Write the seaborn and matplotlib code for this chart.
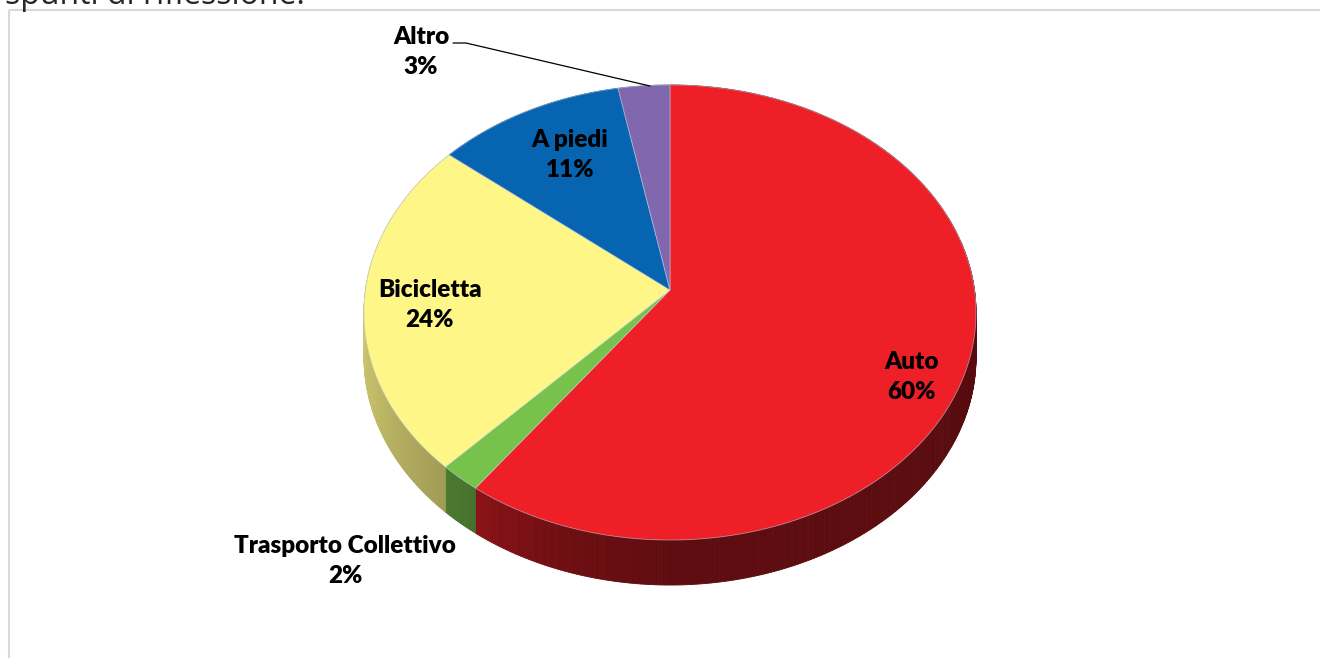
import numpy as np
import matplotlib
matplotlib.use("Agg")
import matplotlib.pyplot as plt
from matplotlib.patches import Polygon, Rectangle
from matplotlib.collections import PolyCollection
import seaborn as sns

# Modal split data
categories = ["Auto", "Trasporto Collettivo", "Bicicletta", "A piedi", "Altro"]
shares = [60, 2, 24, 11, 3]
slice_colors = ["#EE1F27", "#77C24B", "#FFF688", "#0664B1", "#8167AE"]

sns.set_theme(style="white")
plt.rcParams["font.family"] = ["Lato", "DejaVu Sans"]
palette = sns.color_palette(slice_colors)

W, H = 1320, 658
fig = plt.figure(figsize=(W / 100, H / 100), dpi=100)
ax = fig.add_axes([0, 0, 1, 1])
ax.set_xlim(0, W)
ax.set_ylim(H, 0)
ax.axis("off")

# perspective disc projection (pixel space)
CX, CY = 670.0, 290.0
A, B, K = 304.5, 225.3, 0.0989
DEPTH = 45.0


def project(theta_deg, r=1.0):
    th = np.radians(theta_deg)
    X = r * np.sin(th)
    Z = r * np.cos(th)
    d = 1 + K * Z
    return CX + A * X / d, CY - B * Z / d


# side-wall lighting: darker on the right, brighter towards the left
_shade_t = [0, 90, 180, 200, 216, 225, 250, 270, 360]
_shade_f = [0.36, 0.36, 0.40, 0.47, 0.58, 0.64, 0.76, 0.82, 0.82]


def shade(theta):
    return np.interp(np.mod(theta, 360), _shade_t, _shade_f)


total = float(sum(shares))
bounds = np.concatenate([[0], np.cumsum(shares)]) / total * 360.0

# side walls
for i, col in enumerate(palette):
    a0, a1 = bounds[i], bounds[i + 1]
    n = max(int((a1 - a0) * 2), 4)
    ths = np.linspace(a0, a1, n + 1)
    polys, cols = [], []
    for t0, t1 in zip(ths[:-1], ths[1:]):
        x0, y0 = project(t0)
        x1, y1 = project(t1)
        polys.append([(x0, y0), (x1, y1), (x1, y1 + DEPTH), (x0, y0 + DEPTH)])
        f = shade(0.5 * (t0 + t1))
        c = tuple(np.clip(np.array(col) * f, 0, 1))
        cols.append(c)
    pc = PolyCollection(polys, facecolors=cols, edgecolors=cols, linewidths=0.6, zorder=1)
    ax.add_collection(pc)

# top faces
for i, col in enumerate(palette):
    a0, a1 = bounds[i], bounds[i + 1]
    ths = np.linspace(a0, a1, max(int((a1 - a0) * 3), 6))
    pts = [(CX, CY)] + [project(t) for t in ths]
    ax.add_patch(Polygon(pts, closed=True, facecolor=col,
                         edgecolor=(0.75, 0.8, 0.88, 0.6), linewidth=0.6, zorder=2))

# data labels
label_pos = {
    "Auto": (912, 377),
    "Trasporto Collettivo": (345, 561),
    "Bicicletta": (430, 305),
    "A piedi": (570, 155),
    "Altro": (421, 52),
}
for name, val in zip(categories, shares):
    x, y = label_pos[name]
    ax.text(x, y, f"{name}\n{val}%", ha="center", va="center",
            fontsize=17.5, fontweight=800, color="black",
            linespacing=1.47, zorder=5)

# leader line for the small slice
ax.plot([453, 466, 650], [43, 43, 86], color="black", lw=0.9, zorder=4)

# frame and heading text
ax.add_patch(Rectangle((9, 9.5), W, H, fill=False, edgecolor="#D9D9D9", lw=1.5, zorder=0))
ax.text(5, 4, "spunti di riflessione.", fontsize=23, color="#262626",
        family=["Open Sans", "DejaVu Sans"], ha="left", va="baseline", zorder=3)

fig.savefig("out.png", dpi=100)
